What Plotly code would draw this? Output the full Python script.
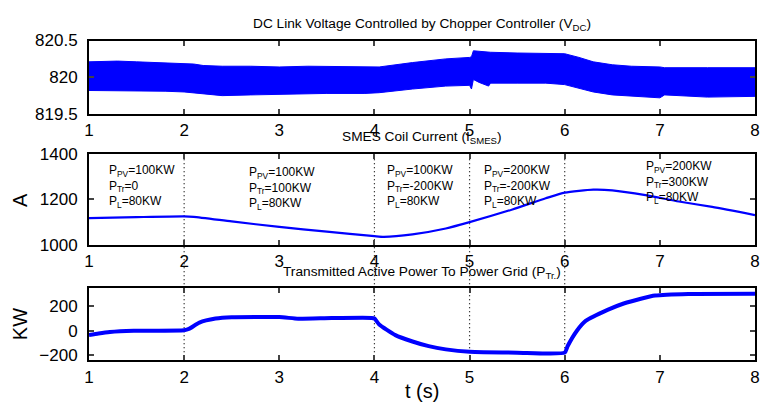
import plotly.graph_objects as go

# ---------------- data ----------------
# Panel 1: DC link voltage, envelope of the high-frequency ripple band
t_vdc = [1.0, 1.3, 1.5, 1.8, 2.0, 2.1, 2.2, 2.4, 2.7, 3.0, 3.3, 3.5, 3.9, 4.05, 4.4, 4.75, 5.0, 5.02, 5.04, 5.1, 5.2, 5.22, 5.5, 5.8, 6.0, 6.15, 6.3, 6.5, 6.7, 7.0, 7.05, 7.5, 8.0]
vdc_upper = [820.21, 820.22, 820.21, 820.20, 820.19, 820.18, 820.16, 820.15, 820.15, 820.14, 820.15, 820.15, 820.15, 820.14, 820.20, 820.25, 820.27, 820.28, 820.36, 820.35, 820.34, 820.34, 820.33, 820.33, 820.32, 820.27, 820.21, 820.17, 820.15, 820.14, 820.13, 820.13, 820.13]
vdc_lower = [819.82, 819.82, 819.81, 819.81, 819.80, 819.79, 819.77, 819.75, 819.76, 819.77, 819.77, 819.78, 819.78, 819.79, 819.84, 819.88, 819.89, 819.84, 819.97, 819.93, 819.88, 819.92, 819.92, 819.92, 819.90, 819.85, 819.80, 819.76, 819.74, 819.72, 819.76, 819.73, 819.74]

# Panel 2: SMES coil current (A)
t_ismes = [1.0, 1.5, 2.0, 2.1, 2.5, 3.0, 3.5, 4.0, 4.1, 4.4, 4.75, 5.0, 5.45, 5.8, 6.0, 6.3, 6.5, 6.85, 7.2, 7.55, 8.0]
i_smes = [1118, 1122, 1125, 1123, 1103, 1079, 1058, 1038, 1035, 1046, 1072, 1100, 1156, 1205, 1230, 1243, 1240, 1219, 1191, 1167, 1131]

# Panel 3: transmitted active power (KW)
t_ptr = [1.0, 1.1, 1.22, 1.47, 2.0, 2.05, 2.16, 2.33, 2.5, 3.0, 3.2, 3.55, 3.97, 4.0, 4.05, 4.22, 4.4, 4.57, 4.75, 5.0, 5.5, 6.0, 6.03, 6.13, 6.22, 6.45, 6.62, 6.8, 6.95, 7.3, 8.0]
p_tr = [-35, -22, -10, 0, 5, 15, 67, 100, 111, 112, 98, 104, 105, 100, 52, -35, -87, -125, -151, -171, -178, -178, -126, 2, 80, 170, 222, 261, 287, 300, 302]

# Event markers and operating-condition labels
event_times = [2, 4, 5, 6]
box_t = [1.19, 2.66, 4.11, 5.13, 6.83]
box_y = [1370, 1362, 1370, 1370, 1387]
box_ppv = ["100KW", "100KW", "100KW", "200KW", "200KW"]
box_ptr = ["0", "100KW", "-200KW", "-200KW", "300KW"]
box_pl = ["80KW", "80KW", "80KW", "80KW", "80KW"]

x_ticks = [1, 2, 3, 4, 5, 6, 7, 8]
y1_ticks = [819.5, 820, 820.5]
y1_text = ["819.5", "820", "820.5"]
y2_ticks = [1000, 1200, 1400]
y3_ticks = [-200, 0, 200]

# ---------------- figure ----------------
BLUE = "#0000FF"
FONT = "Liberation Sans, Arial, Helvetica, sans-serif"
W, H = 760, 419

def py(px):
    return 1 - px / H

fig = go.Figure()

fig.add_trace(go.Scatter(x=t_vdc, y=vdc_upper, mode="lines", line=dict(color=BLUE, width=1),
                         xaxis="x", yaxis="y", showlegend=False, hoverinfo="skip"))
fig.add_trace(go.Scatter(x=t_vdc, y=vdc_lower, mode="lines", line=dict(color=BLUE, width=1),
                         fill="tonexty", fillcolor=BLUE,
                         xaxis="x", yaxis="y", showlegend=False, hoverinfo="skip"))

fig.add_trace(go.Scatter(x=t_ismes, y=i_smes, mode="lines", line=dict(color=BLUE, width=2.2, shape="spline", smoothing=0.6),
                         xaxis="x2", yaxis="y2", showlegend=False))

fig.add_trace(go.Scatter(x=t_ptr, y=p_tr, mode="lines", line=dict(color=BLUE, width=4, shape="spline", smoothing=0.5),
                         xaxis="x3", yaxis="y3", showlegend=False))

dom1 = [py(110), py(33)]
dom2 = [py(247), py(152)]
dom3 = [py(368), py(292)]

xcommon = dict(range=[1, 8], tickvals=x_ticks, ticks="inside", ticklen=5, tickwidth=1.5,
               mirror="ticks", showline=True, linewidth=2, linecolor="black",
               showgrid=False, zeroline=False, tickfont=dict(size=17, color="black"),
               ticklabeloverflow="allow")
ycommon = dict(ticks="inside", ticklen=5, tickwidth=1.5, mirror="ticks", showline=True,
               linewidth=2, linecolor="black", showgrid=False, zeroline=False,
               tickfont=dict(size=17, color="black"), ticklabelstandoff=6)

fig.update_layout(
    width=W, height=H, autosize=False,
    margin=dict(l=89, r=4, t=0, b=0),
    paper_bgcolor="white", plot_bgcolor="white",
    font=dict(family=FONT, color="black"),
    xaxis=dict(domain=[0, 1], anchor="y", **xcommon),
    yaxis=dict(domain=dom1, anchor="x", range=[819.5, 820.5], tickvals=y1_ticks, ticktext=y1_text, **ycommon),
    xaxis2=dict(domain=[0, 1], anchor="y2", **xcommon),
    yaxis2=dict(domain=dom2, anchor="x2", range=[1000, 1400], tickvals=y2_ticks, **ycommon),
    xaxis3=dict(domain=[0, 1], anchor="y3", **xcommon),
    yaxis3=dict(domain=dom3, anchor="x3", range=[-240, 350], tickvals=y3_ticks, **ycommon),
)

# dotted event lines spanning the lower two panels
for te in event_times:
    fig.add_shape(type="line", xref="x2", yref="paper", x0=te, x1=te, y0=dom3[0], y1=dom2[1],
                  line=dict(color="black", width=1.2, dash="1px,3px"), layer="below")

ann = []
ann.append(dict(text="DC Link Voltage Controlled by Chopper Controller (V<sub>DC</sub>)",
                x=0.5, y=py(16), xref="paper", yref="paper", xanchor="center", yanchor="middle",
                showarrow=False, font=dict(size=13.7)))
ann.append(dict(text="SMES Coil Current (I<sub>SMES</sub>)",
                x=0.5, y=py(135), xref="paper", yref="paper", xanchor="center", yanchor="middle",
                showarrow=False, font=dict(size=13.7)))
ann.append(dict(text="Transmitted Active Power To Power Grid (P<sub>Tr.</sub>)",
                x=0.5, y=py(276), xref="paper", yref="paper", xanchor="center", yanchor="middle",
                showarrow=False, font=dict(size=13.7)))
ann.append(dict(text="A", x=(20 - 89) / 667, y=py(200), xref="paper", yref="paper",
                xanchor="center", yanchor="middle", textangle=-90, showarrow=False, font=dict(size=20)))
ann.append(dict(text="KW", x=(20 - 89) / 667, y=py(330), xref="paper", yref="paper",
                xanchor="center", yanchor="middle", textangle=-90, showarrow=False, font=dict(size=20)))
ann.append(dict(text="t (s)", x=0.5, y=py(400), xref="paper", yref="paper",
                xanchor="center", yanchor="middle", showarrow=False, font=dict(size=20)))

for bt, by, a, b, c in zip(box_t, box_y, box_ppv, box_ptr, box_pl):
    txt = f"P<sub>PV</sub>={a}<br>P<sub>Tr</sub>={b}<br>P<sub>L</sub>={c}"
    ann.append(dict(text=txt, x=bt, y=by, xref="x2", yref="y2", xanchor="left", yanchor="top",
                    align="left", showarrow=False, font=dict(size=12)))

fig.update_layout(annotations=ann)

fig.write_html("out.html")
